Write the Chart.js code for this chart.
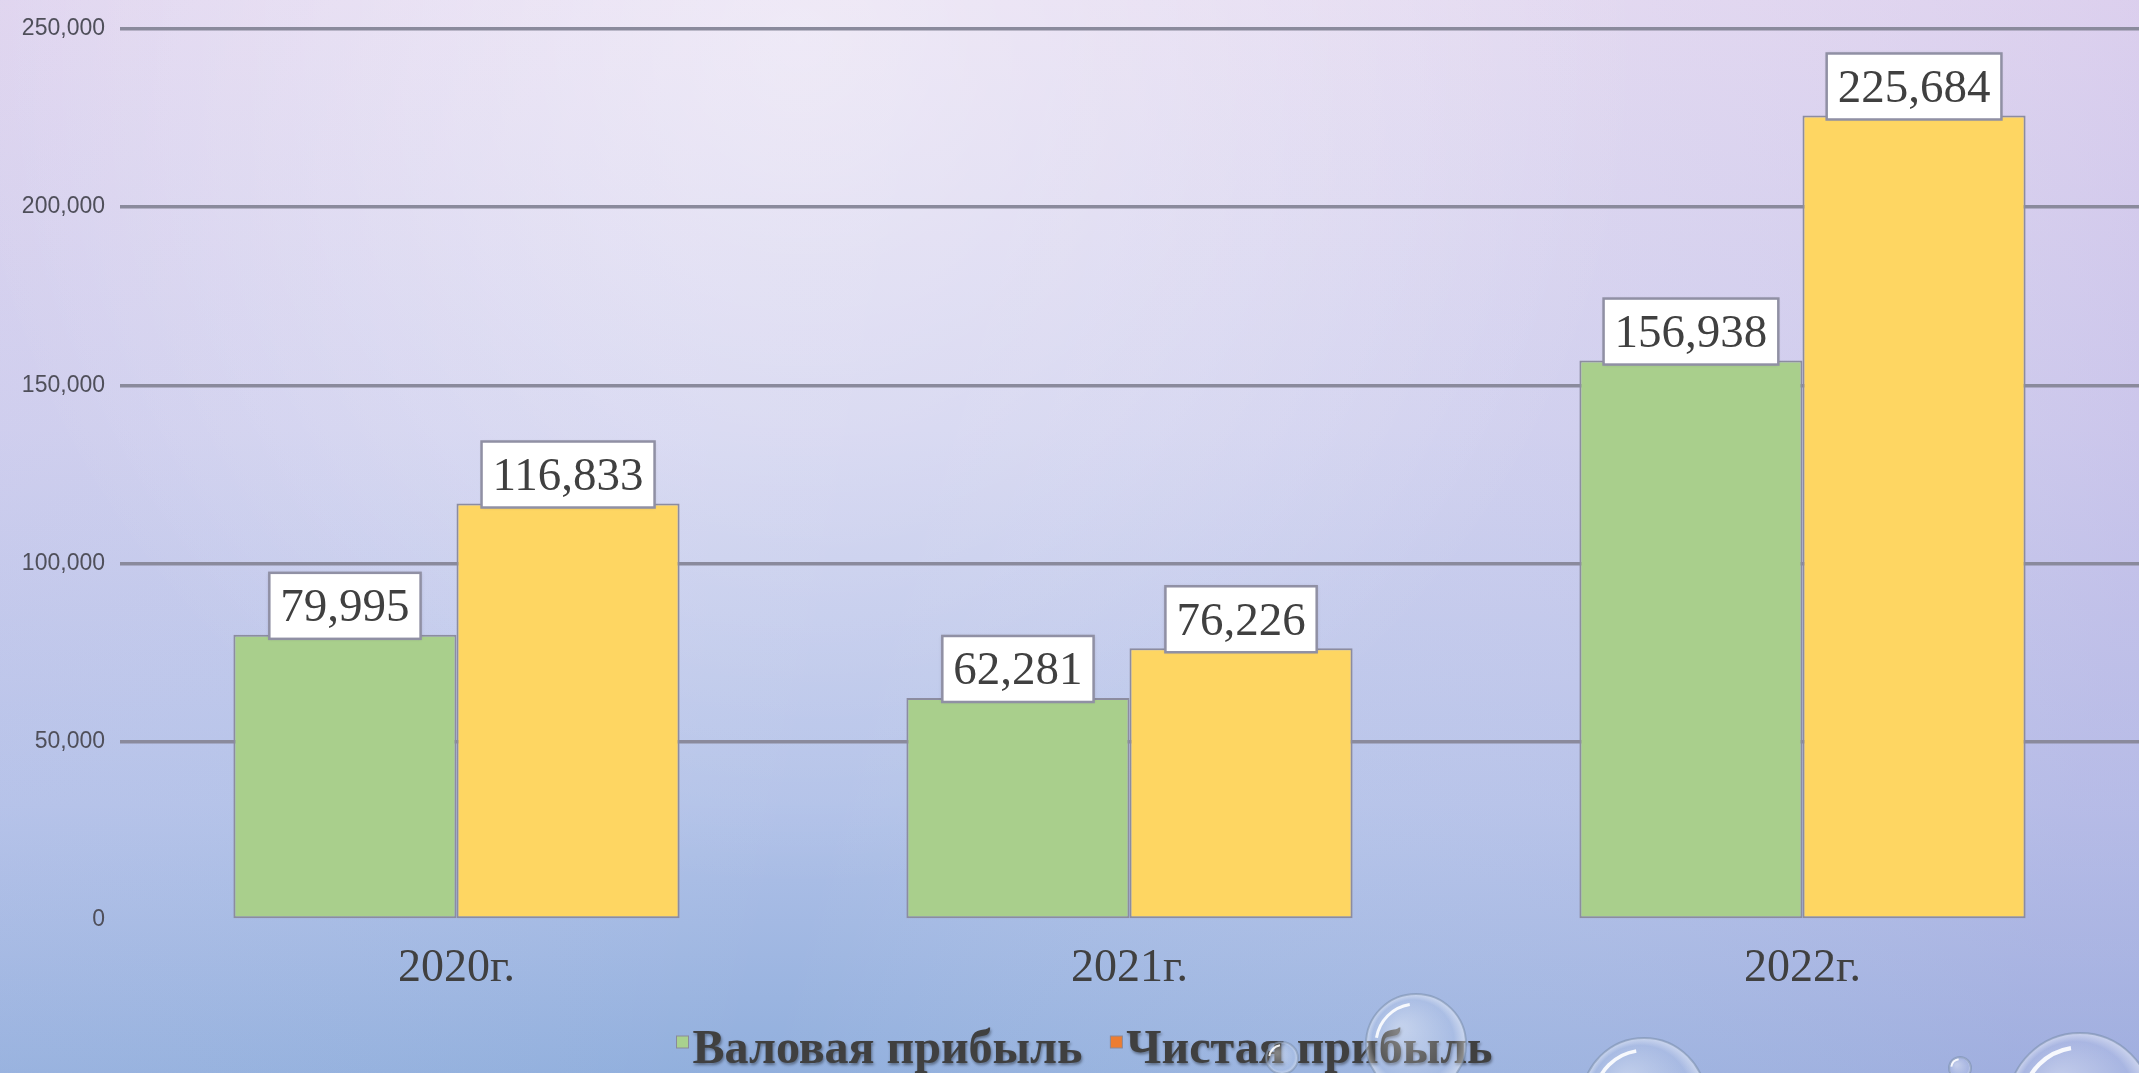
<!DOCTYPE html>
<html>
<head>
<meta charset="utf-8">
<script src="https://cdn.jsdelivr.net/npm/chart.js@4.4.1/dist/chart.umd.min.js"></script>
<style>
  html, body { margin: 0; padding: 0; background: #c9cdec; }
  #wrap { width: 2139px; height: 1073px; position: relative; }
</style>
</head>
<body>
<div id="wrap"><canvas id="myChart" width="2139" height="1073"></canvas></div>
<script>
(function() {
    'use strict';

    const years = ["2020г.", "2021г.", "2022г."];
    const grossProfit = [79995, 62281, 156938];
    const netProfit = [116833, 76226, 225684];
    const seriesNames = ["Валовая прибыль", "Чистая прибыль"];
    const yTicks = [0, 50000, 100000, 150000, 200000, 250000];

    const barColors = ["#a9cf8c", "#fed662"];
    const legendColors = ["#a9d18e", "#ed7d31"];
    const textColor = "#404040";

    const fmt = v => v.toLocaleString("en-US");

    // Background gradient
    const background = {
      id: "background",
      beforeDraw(chart) {
        const ctx = chart.ctx;
        const w = chart.width, h = chart.height;
        ctx.save();
        let g = ctx.createLinearGradient(0, 0, 0, h);
        g.addColorStop(0, "#e2d8f0");
        g.addColorStop(0.4, "#cecfee");
        g.addColorStop(0.75, "#b1c1e8");
        g.addColorStop(1, "#91afdd");
        ctx.fillStyle = g;
        ctx.fillRect(0, 0, w, h);
        g = ctx.createLinearGradient(0, 0, w, h * 0.5);
        g.addColorStop(0, "rgba(210,195,235,0.15)");
        g.addColorStop(0.45, "rgba(255,255,255,0)");
        g.addColorStop(1, "rgba(195,175,228,0.3)");
        ctx.fillStyle = g;
        ctx.fillRect(0, 0, w, h);
        g = ctx.createRadialGradient(800, 40, 0, 800, 40, 850);
        g.addColorStop(0, "rgba(255,255,255,0.45)");
        g.addColorStop(1, "rgba(255,255,255,0)");
        ctx.fillStyle = g;
        ctx.fillRect(0, 0, w, h);
        ctx.restore();
      }
    };

    // Value boxes above bars
    const valueLabels = {
      id: "valueLabels",
      afterDatasetsDraw(chart) {
        const ctx = chart.ctx;
        ctx.save();
        ctx.font = "47px 'Liberation Serif'";
        ctx.textAlign = "center";
        ctx.textBaseline = "middle";
        chart.data.datasets.forEach((ds, di) => {
          chart.getDatasetMeta(di).data.forEach((bar, i) => {
            const txt = fmt(ds.data[i]);
            const bw = ctx.measureText(txt).width + 22;
            const bh = 66;
            const bx = bar.x - bw / 2;
            const by = bar.y + 4 - bh;
            ctx.shadowColor = "rgba(60,60,90,0.35)";
            ctx.shadowBlur = 3;
            ctx.fillStyle = "#ffffff";
            ctx.fillRect(bx, by, bw, bh);
            ctx.shadowColor = "transparent";
            ctx.strokeStyle = "#9090a4";
            ctx.lineWidth = 2.5;
            ctx.strokeRect(bx, by, bw, bh);
            ctx.fillStyle = textColor;
            ctx.fillText(txt, bar.x, by + bh / 2 + 3);
          });
        });
        ctx.restore();
      }
    };

    // Legend and bubbles
    const legendAndBubbles = {
      id: "legendAndBubbles",
      afterDraw(chart) {
        const ctx = chart.ctx;
        ctx.save();
        ctx.font = "bold 48px 'Liberation Serif'";
        ctx.textBaseline = "alphabetic";
        const box = 12, gap = 4, itemGap = 28;
        const widths = seriesNames.map(s => box + gap + ctx.measureText(s).width);
        const total = widths.reduce((a, b) => a + b, 0) + itemGap;
        let x = chart.width / 2 - total / 2 + 15;
        const baseY = 1063;
        seriesNames.forEach((s, i) => {
          ctx.fillStyle = legendColors[i];
          ctx.strokeStyle = "#8a8a9a";
          ctx.lineWidth = 1;
          ctx.fillRect(x, baseY - 27, box, box);
          ctx.strokeRect(x, baseY - 27, box, box);
          ctx.shadowColor = "rgba(0,0,0,0.4)";
          ctx.shadowBlur = 3;
          ctx.shadowOffsetX = 1;
          ctx.shadowOffsetY = 2;
          ctx.fillStyle = textColor;
          ctx.fillText(s, x + box + gap, baseY);
          ctx.shadowColor = "transparent";
          x += widths[i] + itemGap;
        });

        const bubbles = [
          [1416, 1044, 50], [1282, 1058, 16], [1644, 1100, 62],
          [1960, 1068, 11], [2080, 1105, 72]
        ];
        bubbles.forEach(([bx, by, r]) => {
          const g = ctx.createRadialGradient(bx - r * 0.3, by - r * 0.3, r * 0.1, bx, by, r);
          g.addColorStop(0, "rgba(255,255,255,0.35)");
          g.addColorStop(0.8, "rgba(255,255,255,0.08)");
          g.addColorStop(1, "rgba(255,255,255,0.45)");
          ctx.beginPath();
          ctx.arc(bx, by, r, 0, Math.PI * 2);
          ctx.fillStyle = g;
          ctx.fill();
          ctx.strokeStyle = "rgba(120,140,170,0.55)";
          ctx.lineWidth = 2;
          ctx.stroke();
          ctx.beginPath();
          ctx.arc(bx, by, r * 0.8, Math.PI * 1.05, Math.PI * 1.45);
          ctx.strokeStyle = "rgba(255,255,255,0.9)";
          ctx.lineWidth = Math.max(2, r * 0.06);
          ctx.stroke();
        });
        ctx.restore();
      }
    };

    const chart = document.getElementById("myChart");

    new Chart(chart, {
      type: "bar",
      data: {
        labels: years,
        datasets: [
          {
            label: seriesNames[0],
            data: grossProfit,
            backgroundColor: barColors[0],
            borderColor: "#8c8ca0",
            borderWidth: 2,
            borderSkipped: false,
            categoryPercentage: 0.663,
            barPercentage: 1
          },
          {
            label: seriesNames[1],
            data: netProfit,
            backgroundColor: barColors[1],
            borderColor: "#8c8ca0",
            borderWidth: 2,
            borderSkipped: false,
            categoryPercentage: 0.663,
            barPercentage: 1
          }
        ]
      },
      options: {
        responsive: false,
        animation: false,
        layout: {
          padding: { top: 24, right: 0, bottom: 80, left: 0 }
        },
        plugins: {
          legend: { display: false },
          tooltip: { enabled: false }
        },
        scales: {
          x: {
            grid: { display: false, drawTicks: false },
            border: { display: false },
            ticks: {
              color: textColor,
              padding: 21,
              font: { family: "Liberation Serif", size: 46 }
            },
            afterFit(scale) { scale.height = 73; }
          },
          y: {
            min: 0,
            max: 250000,
            afterBuildTicks(scale) {
              scale.ticks = yTicks.map(v => ({ value: v }));
            },
            grid: {
              color: ctx => ctx.tick.value === 0 ? "rgba(0,0,0,0)" : "#8a8a9c",
              lineWidth: 3.5,
              drawTicks: false
            },
            border: { display: false },
            ticks: {
              color: "#4f4f5a",
              padding: 15,
              font: { family: "Liberation Sans", size: 23 },
              callback: v => fmt(v)
            },
            afterFit(scale) { scale.width = 120; }
          }
        }
      },
      plugins: [background, valueLabels, legendAndBubbles]
    });
})();
</script>
</body>
</html>
